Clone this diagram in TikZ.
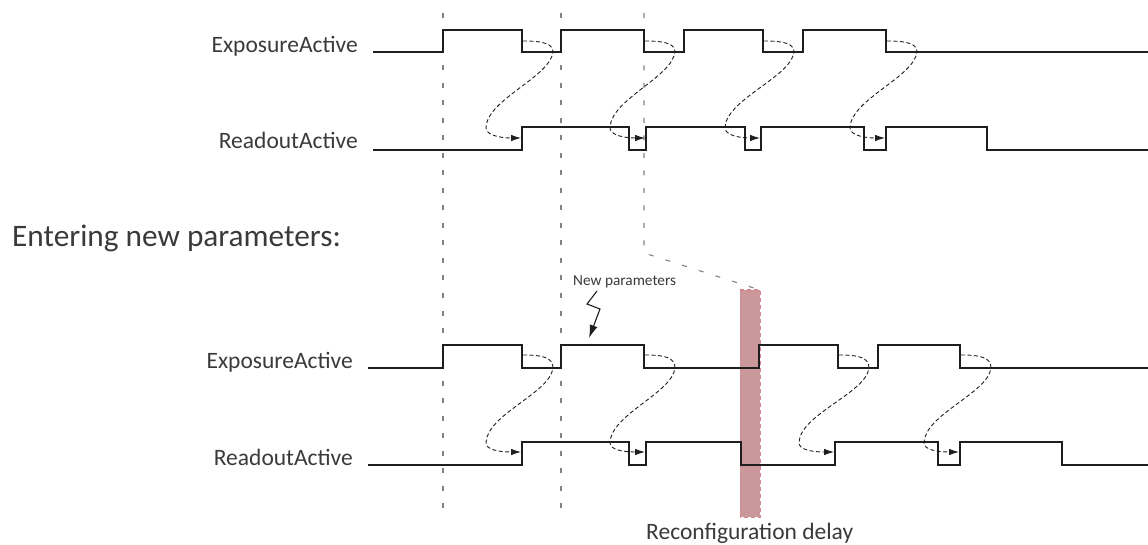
\documentclass[tikz,border=0pt]{standalone}
\usepackage{fontspec}
\setmainfont{Carlito}
\usetikzlibrary{arrows.meta}
\definecolor{txt}{RGB}{58,58,58}
\definecolor{wave}{RGB}{30,30,30}
\definecolor{guide}{RGB}{130,130,130}
\definecolor{rfill}{RGB}{202,151,155}
\definecolor{rdraw}{RGB}{214,135,142}
\tikzset{
  wavestyle/.style={draw=wave,line width=2.7pt,line join=miter},
  guidestyle/.style={draw=guide,line width=1.1pt,dash pattern=on 5pt off 12.5pt},
  curvestyle/.style={draw=wave,line width=0.9pt,dash pattern=on 4pt off 2.5pt,-{Latex[length=10pt,width=6.5pt]}},
  siglabel/.style={anchor=base east,inner sep=0pt,text=txt,font=\fontsize{23.5}{26}\selectfont},
}
\newcommand\hopcurve[6]{% xf, ymid-exp, ylow-exp, xr, yhigh-read, ymid-read
  \draw[curvestyle] ({#1+1},{#2}) .. controls ({#1+22},{#2}) and ({#1+31},{#2+3}) .. ({#1+31},{#3})
    .. controls ({#1+28},{#3+25}) and ({#4-34},{#5-28}) .. ({#4-36},{#5})
    .. controls ({#4-37},{#5+8}) and ({#4-22},{#6}) .. ({#4-1},{#6});}
\begin{document}
\begin{tikzpicture}[x=1pt,y=-1pt]
\useasboundingbox (0,0) rectangle (1148,545);
% red reconfiguration band
\draw[fill=rfill,draw=rdraw,line width=1pt,dash pattern=on 4pt off 3pt] (740,290) rectangle (760,517);
% guides
\coordinate (g1t) at (443,13); \coordinate (g1b) at (443,520);
\coordinate (g2t) at (561,13); \coordinate (g2b) at (561,520);
\coordinate (g3t) at (644,13); \coordinate (g3k) at (644,253); \coordinate (g3e) at (760,290);
\draw[guidestyle] (g1t) -- (g1b);
\draw[guidestyle] (g2t) -- (g2b);
\draw[guidestyle] (g3t) -- (g3k) -- (g3e);
% labels
\node[siglabel] (le1) at (358,53) {ExposureActive};
\node[siglabel] (lr1) at (358,149) {ReadoutActive};
\node[siglabel] (le2) at (353,368) {ExposureActive};
\node[siglabel] (lr2) at (353,465) {ReadoutActive};
\node[anchor=base west,inner sep=0pt,text=txt,font=\fontsize{31.3}{34}\selectfont] (hdr) at (12,247) {Entering new parameters:};
\node[anchor=base west,inner sep=0pt,text=txt,font=\fontsize{15.3}{17}\selectfont] (np) at (573,286) {New parameters};
\node[anchor=base west,inner sep=0pt,text=txt,font=\fontsize{23.5}{26}\selectfont] (rd) at (646,539) {Reconfiguration delay};
% waveforms top
\draw[wavestyle] (373,52) -| (443,30) -| (522,52) -| (561,30) -| (644,52) -| (684,30) -| (763,52) -| (803,30) -| (886,52) -- (1148,52);
\draw[wavestyle] (373,150) -| (522,127) -| (629,150) -| (646,127) -| (745,150) -| (761,127) -| (864,150) -| (886,127) -| (987,150) -- (1148,150);
% waveforms bottom
\draw[wavestyle] (368,368) -| (443,345) -| (522,368) -| (561,345) -| (644,368) -| (759,345) -| (838,368) -| (878,345) -| (960,368) -- (1148,368);
\draw[wavestyle] (368,465) -| (522,442) -| (629,465) -| (646,442) -| (741,465) -| (835,442) -| (938,465) -| (960,442) -| (1062,465) -- (1148,465);
% dashed hand-over curves top
\hopcurve{522}{41}{52}{522}{127}{138}
\hopcurve{644}{41}{52}{646}{127}{138}
\hopcurve{763}{41}{52}{761}{127}{138}
\hopcurve{886}{41}{52}{886}{127}{138}
% bottom
\hopcurve{522}{355}{368}{522}{442}{452}
\hopcurve{644}{355}{368}{646}{442}{452}
\hopcurve{838}{355}{368}{835}{442}{452}
\hopcurve{960}{355}{368}{960}{442}{452}
% lightning
\coordinate (z1) at (597,291); \coordinate (z2) at (587,304); \coordinate (z3) at (600,309); \coordinate (z4) at (589,338);
\draw[draw=wave,line width=1.1pt,-{Latex[length=13pt,width=8pt]}] (z1) -- (z2) -- (z3) -- (z4);
\end{tikzpicture}
\end{document}
